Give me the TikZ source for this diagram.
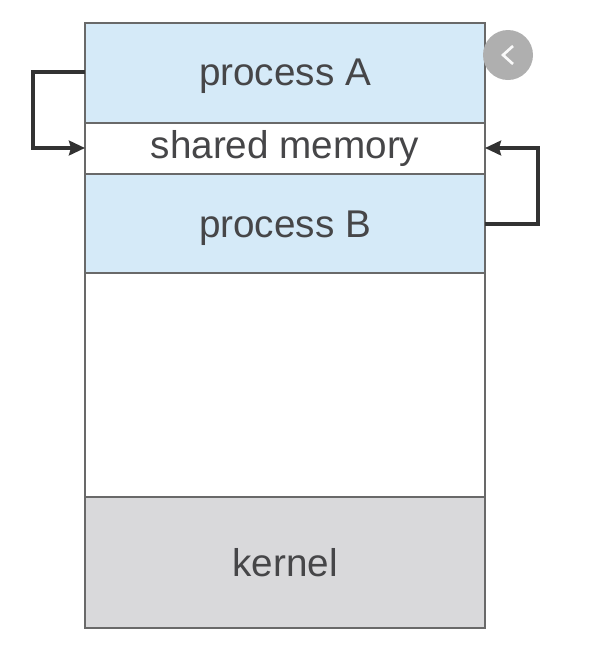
\documentclass[tikz,border=0pt]{standalone}
\usepackage{fontspec}
\setmainfont{Liberation Sans}
\usepackage{tikz}
\usetikzlibrary{arrows.meta,positioning}
\definecolor{procblue}{RGB}{213,234,248}
\definecolor{kernelgray}{RGB}{217,217,219}
\definecolor{linegray}{RGB}{105,105,105}
\definecolor{textgray}{RGB}{70,70,72}
\definecolor{linkdark}{RGB}{50,50,50}
\definecolor{backgray}{RGB}{175,175,175}
\begin{document}
\begin{tikzpicture}[x=0.75pt,y=0.75pt]
      \tikzstyle{region}=[draw=linegray,line width=1.9pt,outer sep=0pt,minimum width=300pt,inner sep=0pt,text=textgray,font=\fontsize{29}{29}\selectfont,anchor=north west]
      \tikzstyle{link}=[draw=linkdark,line width=2.8pt,-{Stealth[length=12pt,width=11pt,inset=1.5pt]}]
      \useasboundingbox (0,0) rectangle (614,-662);
      \node[region,fill=procblue,minimum height=75pt,text height=24.5pt,text depth=6pt] at (85,-23) (A) {process A};
      \node[region,fill=white,minimum height=38.25pt] at (85,-123) (M) {shared memory};
      \node[region,fill=procblue,minimum height=74.25pt,text height=27.5pt,text depth=6pt] at (85,-174) (B) {process B};
      \node[region,fill=white,minimum height=168pt] at (85,-273) (F) {};
      \node[region,fill=kernelgray,minimum height=98.25pt] at (85,-497) (K) {kernel};
      \node[circle,fill=backgray,minimum size=37.5pt,inner sep=0pt] at (508,-55) (back) {};
      \coordinate (backtop) at (513,-46);
      \coordinate (backtip) at (503,-55);
      \coordinate (backlow) at (513,-64);
      \draw[white!92!backgray,line width=2pt] (backtop) -- (backtip) -- (backlow);
      \coordinate (leftA) at (33,-72);
      \coordinate (leftM) at (33,-148);
      \coordinate (rightB) at (538,-224);
      \coordinate (rightM) at (538,-148);
      \draw[link] (A.west |- leftA) -- (leftA) -- (leftM) -- (M.west |- leftM);
      \draw[link] (B.east |- rightB) -- (rightB) -- (rightM) -- (M.east |- rightM);
    \end{tikzpicture}
\end{document}
